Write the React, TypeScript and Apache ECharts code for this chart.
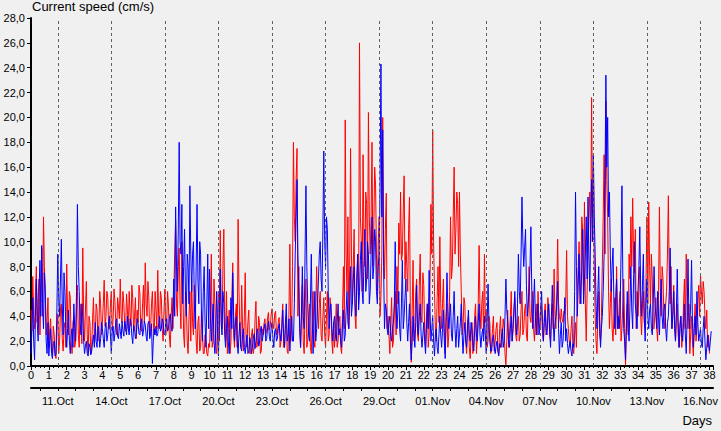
import React, { useEffect, useRef } from "react";
import * as echarts from "echarts";

// sampling step of both series, in days; the "half" arrays sit midway between samples
const STEP = 0.1;

// red current speed (cm/s) at 0.0, 0.1, 0.2 ... days (one row per day)
const redSpeed: number[] = [
  4.5, 7.2, 3.0, 8.0, 5.5, 2.5, 9.5, 12.0, 6.0, 3.5,
  1.5, 3.8, 1.0, 2.5, 0.6, 4.2, 2.0, 5.0, 1.2, 3.5,
  8.2, 2.5, 5.5, 1.0, 4.0, 2.0, 6.5, 1.5, 3.5, 9.5,
  2.0, 6.8, 1.0, 3.5, 1.5, 5.5, 2.5, 4.5, 3.0, 5.0,
  3.5, 6.9, 4.0, 5.5, 3.0, 6.0, 3.8, 5.2, 2.5, 4.8,
  7.0, 3.5, 5.0, 2.8, 4.5, 6.0, 3.2, 5.4, 4.0, 2.2,
  3.5, 5.8, 2.8, 6.5, 8.3, 4.0, 5.5, 3.0, 6.0, 2.5,
  4.5, 7.7, 3.0, 5.5, 2.0, 6.2, 3.5, 4.8, 1.5, 5.5,
  6.0, 11.7, 4.0, 9.5, 3.0, 7.0, 1.5, 5.0, 1.0, 6.0,
  7.0, 2.5, 5.5, 1.0, 4.0, 1.5, 3.0, 1.0, 2.0, 0.8,
  1.5, 9.0, 2.0, 5.0, 1.0, 6.0, 10.9, 3.0, 11.0, 2.0,
  1.0, 4.5, 2.0, 8.3, 1.5, 5.0, 11.8, 3.0, 6.5, 1.2,
  7.5, 2.0, 4.5, 1.0, 3.0, 1.5, 5.2, 2.0, 3.5, 1.2,
  2.5, 3.8, 2.8, 4.3, 3.2, 4.6, 3.0, 4.4, 2.6, 3.9,
  2.0, 5.0, 1.5, 4.0, 1.0, 9.8, 3.0, 18.0, 10.0, 17.5,
  8.0, 1.5, 6.5, 1.0, 7.0, 2.0, 5.0, 1.0, 6.0, 1.5,
  8.0, 3.0, 6.0, 2.0, 5.5, 1.5, 6.0, 2.5, 4.5, 1.0,
  1.5, 5.0, 2.0, 4.0, 1.0, 8.0, 19.8, 6.0, 3.0, 17.5,
  5.0, 11.0, 3.0, 9.0, 26.0, 10.0, 17.0, 8.0, 13.0, 20.4,
  9.0, 18.0, 11.0, 14.5, 6.0, 12.0, 5.5, 20.0, 7.0, 13.9,
  4.0, 1.0, 5.5, 2.0, 6.0, 8.0, 11.5, 14.0, 9.0, 15.3,
  10.0, 6.0, 13.6, 0.3, 8.5, 3.0, 7.0, 2.0, 9.0, 3.5,
  6.5, 1.5, 5.0, 2.5, 13.0, 19.0, 6.0, 2.0, 8.0, 10.4,
  3.0, 7.0, 1.0, 5.0, 2.5, 12.0, 8.0, 16.0, 11.0, 13.0,
  14.0, 6.0, 3.0, 5.0, 1.0, 4.0, 0.6, 3.5, 2.0, 5.0,
  2.5, 9.7, 3.0, 6.0, 9.0, 4.5, 2.0, 3.5, 1.5, 4.0,
  2.0, 3.5, 1.0, 4.0, 2.5, 3.0, 0.1, 4.5, 2.5, 6.0,
  3.0, 5.5, 2.0, 4.0, 2.5, 6.0, 3.0, 5.0, 2.0, 8.0,
  3.5, 6.0, 2.0, 5.0, 6.0, 3.0, 4.5, 2.0, 5.0, 3.0,
  4.5, 2.0, 5.0, 7.8, 3.0, 10.2, 4.0, 4.6, 3.5, 4.2,
  9.3, 3.0, 1.5, 4.0, 1.0, 3.5, 6.0, 10.0, 7.0, 11.0,
  13.2, 2.0, 9.0, 14.0, 21.6, 16.0, 4.0, 1.0, 6.0, 2.0,
  8.0, 17.0, 21.3, 12.0, 3.0, 7.0, 2.0, 5.5, 8.0, 3.0,
  6.0, 3.0, 7.0, 0.1, 5.0, 9.0, 12.0, 13.5, 7.5, 3.0,
  4.0, 8.0, 2.5, 6.0, 3.0, 12.0, 13.2, 5.0, 7.0, 3.0,
  5.5, 2.0, 12.8, 4.0, 7.0, 3.0, 6.0, 13.7, 5.0, 3.0,
  6.5, 2.0, 5.0, 1.5, 4.0, 2.5, 7.0, 9.0, 3.0, 1.0,
  4.0, 0.8, 5.0, 3.0, 6.5, 7.3, 5.0, 6.0, 3.0, 1.5,
  1.0,
];

// red current speed (cm/s) at 0.05, 0.15, 0.25 ... days
const redSpeedHalf: number[] = [
  2.8, 4.0, 6.0, 3.5, 7.0, 5.0, 4.0, 8.0, 2.5, 5.5,
  3.0, 1.2, 3.2, 1.0, 2.8, 1.0, 4.5, 2.2, 3.0, 1.5,
  4.0, 6.0, 2.0, 3.5, 1.5, 4.5, 2.5, 5.0, 1.8, 4.0,
  4.5, 2.5, 4.0, 1.0, 3.8, 1.8, 5.0, 2.0, 6.0, 2.5,
  5.0, 3.2, 6.0, 3.0, 5.0, 2.8, 6.2, 3.5, 5.5, 3.8,
  4.0, 6.0, 3.2, 5.8, 3.0, 4.2, 6.5, 2.8, 5.5, 4.5,
  6.5, 3.0, 5.0, 3.5, 5.0, 6.8, 2.5, 5.0, 3.5, 6.0,
  3.0, 4.0, 6.0, 3.0, 4.5, 2.5, 6.0, 2.5, 4.0, 3.0,
  9.0, 5.0, 8.0, 5.0, 10.0, 2.5, 6.0, 2.0, 4.0, 2.0,
  3.5, 6.5, 2.0, 3.5, 1.2, 4.5, 1.0, 2.5, 1.0, 1.8,
  4.0, 1.5, 7.0, 1.5, 4.0, 2.0, 5.0, 8.0, 4.5, 6.0,
  3.0, 1.0, 5.5, 2.5, 4.0, 1.5, 6.0, 1.5, 3.0, 4.0,
  1.5, 3.5, 1.0, 2.5, 1.0, 3.8, 1.5, 4.0, 1.0, 3.0,
  3.4, 2.6, 3.9, 2.9, 4.1, 3.4, 4.2, 2.5, 3.5, 1.5,
  3.5, 1.5, 3.0, 1.2, 4.5, 2.0, 8.0, 12.0, 15.0, 4.0,
  3.0, 4.0, 2.0, 4.5, 1.5, 4.0, 1.5, 3.5, 2.0, 4.5,
  4.5, 5.0, 2.5, 4.0, 2.5, 4.0, 2.0, 5.5, 2.0, 3.5,
  3.0, 1.5, 3.5, 1.5, 4.5, 3.0, 9.0, 12.0, 8.0, 9.0,
  8.0, 4.0, 7.0, 5.0, 12.0, 6.0, 10.0, 14.0, 7.0, 12.0,
  12.0, 8.0, 16.0, 9.0, 10.0, 4.0, 9.0, 10.0, 11.0, 3.0,
  2.5, 3.5, 1.5, 4.5, 2.5, 5.0, 9.0, 8.5, 12.5, 7.0,
  8.0, 11.0, 4.0, 4.5, 2.0, 6.0, 2.5, 6.5, 4.0, 7.5,
  3.0, 4.0, 1.5, 7.0, 9.0, 10.0, 3.0, 5.5, 3.5, 5.0,
  5.0, 3.0, 4.0, 1.5, 6.0, 7.0, 12.0, 9.0, 14.0, 8.0,
  9.0, 2.5, 5.5, 2.0, 3.5, 1.5, 2.5, 1.0, 4.0, 1.0,
  5.0, 4.5, 5.0, 2.5, 3.5, 1.5, 4.0, 1.0, 3.0, 1.2,
  3.0, 1.2, 3.0, 1.5, 3.8, 1.0, 2.0, 1.5, 4.0, 2.0,
  4.5, 2.5, 3.5, 2.0, 4.5, 2.5, 4.5, 2.5, 5.0, 4.0,
  5.0, 3.0, 4.0, 2.5, 3.5, 5.0, 2.5, 4.0, 2.5, 5.5,
  2.5, 4.0, 3.0, 4.0, 6.0, 5.0, 3.5, 3.8, 4.4, 5.0,
  4.0, 2.0, 3.0, 1.5, 2.5, 1.5, 8.0, 5.0, 12.0, 6.0,
  5.0, 6.0, 12.0, 10.0, 12.0, 8.0, 2.0, 4.0, 2.5, 4.0,
  12.0, 9.0, 15.0, 6.0, 5.0, 3.0, 4.0, 2.5, 4.0, 5.0,
  2.0, 5.0, 3.0, 3.0, 2.5, 7.0, 8.0, 9.0, 11.0, 6.0,
  6.0, 4.0, 5.0, 3.5, 7.0, 5.0, 8.0, 9.0, 3.0, 4.5,
  3.0, 6.0, 6.0, 8.0, 4.0, 5.0, 9.0, 7.0, 8.0, 4.5,
  3.5, 4.0, 2.5, 3.5, 1.5, 5.0, 3.0, 5.0, 5.0, 2.5,
  2.0, 3.5, 2.0, 5.0, 4.0, 6.0, 6.8, 4.0, 4.5, 2.5,
];

// blue current speed (cm/s) at 0.0, 0.1, 0.2 ... days (one row per day)
const blueSpeed: number[] = [
  1.0, 5.5, 0.5, 7.0, 2.0, 8.5, 9.7, 3.0, 6.0, 1.0,
  0.8, 3.0, 0.6, 2.0, 1.0, 9.0, 4.0, 10.2, 2.5, 6.0,
  1.5, 4.5, 1.0, 3.0, 5.0, 2.0, 13.0, 6.0, 2.5, 4.0,
  1.0, 2.0, 0.8, 1.5, 1.2, 2.5, 3.5, 1.5, 3.0, 2.2,
  3.0, 1.5, 3.5, 2.5, 4.0, 1.0, 3.2, 2.6, 3.8, 2.2,
  2.8, 3.6, 2.4, 3.2, 4.0, 2.5, 3.5, 1.8, 3.0, 2.6,
  3.4, 2.5, 3.8, 2.8, 3.3, 2.0, 3.6, 2.6, 0.2, 3.0,
  3.2, 2.6, 4.0, 3.0, 3.5, 2.5, 3.8, 3.0, 4.2, 2.8,
  7.0, 12.8, 6.0, 18.0, 9.0, 5.0, 11.0, 4.0, 8.0, 14.5,
  6.0, 10.0, 3.0, 13.0, 5.0, 9.0, 2.0, 8.0, 1.5, 9.0,
  7.8, 2.0, 5.0, 1.0, 6.0, 0.8, 7.8, 2.5, 5.0, 1.5,
  4.0, 1.0, 5.5, 7.5, 2.0, 4.0, 1.0, 3.5, 1.2, 3.0,
  1.0, 2.5, 1.2, 2.0, 1.5, 2.6, 2.0, 3.0, 1.8, 3.2,
  2.5, 3.4, 2.2, 3.6, 2.0, 3.5, 1.5, 3.0, 2.2, 3.4,
  2.0, 4.5, 1.5, 5.0, 2.5, 1.2, 4.0, 2.0, 9.0, 15.0,
  6.0, 1.5, 8.0, 3.0, 14.5, 5.0, 2.0, 9.0, 1.0, 6.0,
  3.0, 7.0, 10.0, 6.0, 17.3, 8.0, 11.0, 3.0, 5.0, 2.0,
  4.0, 2.0, 5.0, 3.0, 1.5, 4.5, 2.5, 6.0, 3.0, 8.0,
  5.0, 8.0, 4.0, 9.0, 6.0, 10.0, 5.0, 11.0, 7.0, 9.0,
  6.0, 12.0, 8.0, 10.0, 5.0, 9.0, 24.3, 19.0, 3.0, 4.5,
  2.5, 4.0, 2.0, 3.5, 10.0, 3.0, 6.0, 2.0, 8.5, 4.0,
  7.0, 2.0, 5.0, 0.5, 4.0, 1.5, 6.5, 2.5, 5.0, 1.5,
  3.5, 1.0, 5.0, 7.7, 2.0, 4.0, 0.8, 3.0, 1.0, 4.0,
  1.5, 4.5, 0.6, 7.5, 3.0, 5.0, 2.0, 6.0, 1.5, 4.0,
  2.5, 5.0, 1.0, 3.5, 1.5, 4.5, 2.0, 3.0, 1.2, 4.0,
  2.0, 5.0, 1.5, 3.0, 4.0, 1.0, 6.6, 2.0, 1.2, 2.5,
  1.0, 2.0, 0.8, 1.5, 3.0, 2.0, 7.0, 3.5, 1.5, 4.0,
  3.0, 6.0, 2.5, 9.0, 5.0, 13.6, 8.0, 11.0, 4.0, 6.0,
  11.2, 3.0, 7.0, 2.5, 5.0, 3.0, 6.0, 2.0, 4.5, 2.5,
  5.0, 1.5, 6.5, 2.0, 4.0, 6.8, 1.0, 3.5, 2.0, 5.5,
  3.0, 1.0, 2.0, 0.8, 1.5, 14.0, 4.0, 9.0, 5.0, 11.0,
  7.0, 12.0, 13.6, 6.0, 15.0, 17.0, 9.0, 3.0, 8.0, 1.5,
  4.0, 9.0, 23.4, 20.0, 14.0, 6.0, 9.5, 3.0, 7.0, 4.0,
  5.0, 14.5, 3.0, 0.5, 6.0, 2.0, 8.0, 3.0, 10.0, 4.0,
  6.0, 11.2, 4.0, 9.0, 2.0, 7.0, 3.0, 5.0, 2.5, 8.0,
  4.0, 6.0, 2.5, 7.0, 3.0, 5.0, 2.0, 4.0, 9.5, 3.0,
  6.0, 2.0, 7.8, 1.5, 4.0, 2.0, 5.0, 1.0, 8.6, 3.0,
  8.5, 1.5, 4.0, 6.0, 2.0, 3.0, 1.5, 4.0, 0.5, 2.5,
  1.2, 2.8,
];

// blue current speed (cm/s) at 0.05, 0.15, 0.25 ... days
const blueSpeedHalf: number[] = [
  3.0, 2.0, 4.0, 3.5, 6.0, 4.0, 5.0, 7.5, 2.0, 3.5,
  2.0, 1.0, 1.8, 0.8, 4.5, 5.5, 7.0, 5.0, 7.5, 3.0,
  3.0, 2.0, 2.5, 1.5, 3.0, 6.0, 8.0, 3.5, 5.0, 2.0,
  1.6, 1.0, 1.8, 0.9, 2.0, 1.5, 2.0, 3.2, 1.5, 3.5,
  2.2, 3.0, 2.0, 3.6, 2.5, 2.8, 2.0, 3.6, 2.4, 3.4,
  2.2, 2.8, 3.6, 2.5, 3.0, 3.8, 2.4, 3.3, 2.2, 3.8,
  2.6, 3.5, 2.4, 3.6, 2.4, 3.4, 2.2, 3.4, 2.0, 2.5,
  2.4, 3.4, 2.8, 3.8, 2.6, 3.6, 2.8, 3.8, 3.2, 4.5,
  4.0, 8.0, 11.0, 10.0, 13.0, 8.0, 6.0, 9.0, 5.0, 9.0,
  9.0, 5.0, 8.0, 7.0, 10.0, 4.0, 6.0, 3.5, 5.0, 3.0,
  4.0, 3.5, 2.0, 3.0, 2.5, 4.0, 3.5, 6.0, 2.5, 3.0,
  2.0, 3.0, 3.0, 4.0, 3.5, 2.0, 2.5, 1.5, 2.5, 1.5,
  1.8, 1.0, 2.3, 1.0, 2.2, 1.4, 2.8, 1.6, 2.9, 2.0,
  3.0, 2.0, 3.1, 2.4, 3.0, 2.2, 2.8, 2.0, 3.0, 2.6,
  3.0, 2.5, 3.5, 2.0, 3.8, 2.8, 2.0, 5.0, 12.0, 9.0,
  3.0, 4.5, 4.0, 9.0, 8.0, 2.5, 5.0, 4.0, 3.5, 2.0,
  5.0, 9.0, 7.0, 11.0, 10.0, 12.0, 6.0, 4.5, 3.0, 3.5,
  2.5, 3.5, 2.5, 2.0, 3.5, 2.0, 4.5, 3.5, 5.0, 4.0,
  7.0, 5.0, 7.0, 4.5, 8.5, 6.0, 8.5, 6.0, 10.0, 5.0,
  9.0, 7.0, 11.0, 6.0, 8.0, 14.0, 12.0, 8.0, 5.0, 3.0,
  3.5, 2.5, 3.0, 5.0, 5.0, 4.5, 3.0, 5.0, 3.0, 5.5,
  3.5, 3.5, 2.0, 2.0, 2.5, 3.5, 3.0, 4.0, 2.5, 2.5,
  2.0, 3.0, 3.0, 4.5, 3.0, 2.0, 2.5, 1.5, 2.5, 2.5,
  3.0, 2.0, 3.5, 4.5, 4.0, 2.5, 4.0, 3.0, 3.0, 1.5,
  3.5, 2.5, 2.5, 2.0, 3.0, 2.5, 3.5, 1.8, 2.8, 2.5,
  3.5, 2.5, 2.5, 2.0, 2.5, 3.5, 3.5, 1.2, 2.2, 1.5,
  1.6, 1.2, 1.8, 2.2, 1.5, 4.0, 4.5, 2.0, 3.0, 2.0,
  4.5, 3.5, 5.0, 6.0, 9.0, 10.0, 9.5, 6.5, 5.0, 8.0,
  6.0, 5.0, 4.0, 4.0, 2.5, 4.5, 3.5, 3.5, 3.0, 4.0,
  3.0, 4.0, 3.5, 3.5, 5.0, 3.0, 2.5, 1.5, 3.5, 2.0,
  1.8, 1.6, 1.2, 1.8, 6.0, 8.0, 6.5, 6.0, 8.0, 5.0,
  9.0, 7.0, 9.0, 11.0, 10.0, 12.0, 5.0, 6.0, 3.5, 3.0,
  6.0, 15.0, 16.0, 12.0, 9.0, 8.0, 5.0, 5.5, 3.0, 3.0,
  9.0, 7.0, 2.0, 3.5, 3.0, 5.0, 4.5, 7.0, 5.0, 3.0,
  8.0, 6.0, 6.5, 4.0, 5.0, 4.0, 4.5, 3.0, 5.0, 5.0,
  3.0, 4.0, 5.0, 4.0, 4.5, 3.0, 3.5, 6.0, 5.0, 4.0,
  3.0, 4.5, 3.5, 3.0, 2.5, 3.5, 2.5, 4.0, 4.0, 5.0,
  3.5, 3.0, 2.5, 3.5, 2.5, 1.8, 3.0, 2.0, 1.5, 1.8,
  2.0,
];

// date axis: positions (in days) and labels
const dateTickDays: number[] = [1.5, 4.5, 7.5, 10.5, 13.5, 16.5, 19.5, 22.5, 25.5, 28.5, 31.5, 34.5, 37.5];
const dateLabels: string[] = [
  "11.Oct", "14.Oct", "17.Oct", "20.Oct", "23.Oct", "26.Oct", "29.Oct",
  "01.Nov", "04.Nov", "07.Nov", "10.Nov", "13.Nov", "16.Nov",
];
// midnight positions (each day) on the date axis
const midnightDays: number[] = [
  0.5, 1.5, 2.5, 3.5, 4.5, 5.5, 6.5, 7.5, 8.5, 9.5, 10.5, 11.5, 12.5, 13.5, 14.5, 15.5, 16.5, 17.5, 18.5, 19.5,
  20.5, 21.5, 22.5, 23.5, 24.5, 25.5, 26.5, 27.5, 28.5, 29.5, 30.5, 31.5, 32.5, 33.5, 34.5, 35.5, 36.5, 37.5,
];

const X_MAX = 38.2;
const FONT = "Liberation Sans, Arial, sans-serif";

const r2 = (x: number) => Math.round(x * 100) / 100;
const toPairs = (base: number[], half: number[]) => {
  const pts: number[][] = [];
  base.forEach((v, i) => {
    pts.push([r2(i * STEP), v]);
    if (i < half.length) pts.push([r2(i * STEP + STEP / 2), half[i]]);
  });
  return pts;
};

export default function App() {
  const ref = useRef<HTMLDivElement>(null);

  useEffect(() => {
    if (!ref.current) return;
    const chart = echarts.init(ref.current, null, { renderer: "svg" });
    const black = "#000000";
    chart.setOption({
      animation: false,
      backgroundColor: "#f0f0f0",
      textStyle: { fontFamily: FONT, fontSize: 11, color: black },
      grid: { left: 31, right: 8, top: 18, bottom: 65 },
      xAxis: [
        {
          type: "value",
          min: 0,
          max: X_MAX,
          interval: 1,
          position: "bottom",
          axisLine: { show: true, onZero: false, lineStyle: { color: black, width: 2 } },
          axisTick: { show: true, length: 4, lineStyle: { color: black } },
          minorTick: { show: true, splitNumber: 4, length: 2, lineStyle: { color: black } },
          axisLabel: {
            color: black,
            fontFamily: FONT,
            fontSize: 11,
            margin: 3,
            formatter: (v: number) => (Number.isInteger(v) ? String(v) : ""),
          },
          splitLine: { show: false },
        },
        {
          type: "value",
          min: 0,
          max: X_MAX,
          position: "bottom",
          offset: 22,
          axisLine: { show: true, onZero: false, lineStyle: { color: black, width: 2 } },
          axisTick: { show: true, length: 3, customValues: midnightDays, lineStyle: { color: black } },
          axisLabel: {
            color: black,
            fontFamily: FONT,
            fontSize: 11,
            margin: 7,
            customValues: dateTickDays,
            formatter: (v: number) => {
              const i = dateTickDays.findIndex((d) => Math.abs(d - v) < 0.01);
              return i >= 0 ? dateLabels[i] : "";
            },
          },
          splitLine: { show: false },
        },
      ],
      yAxis: {
        type: "value",
        min: 0,
        max: 28,
        interval: 2,
        axisLine: { show: true, onZero: false, lineStyle: { color: black, width: 2 } },
        axisTick: { show: true, length: 4, lineStyle: { color: black } },
        axisLabel: {
          color: black,
          fontFamily: FONT,
          fontSize: 11,
          margin: 6,
          formatter: (v: number) => v.toFixed(1).replace(".", ","),
        },
        splitLine: { show: false },
      },
      graphic: [
        {
          type: "text",
          left: 32,
          top: 0,
          style: { text: "Current speed (cm/s)", font: `13px ${FONT}`, fill: black },
        },
        {
          type: "text",
          right: 9,
          top: 414,
          style: { text: "Days", font: `13px ${FONT}`, fill: black },
        },
      ],
      series: [
        {
          type: "line",
          xAxisIndex: 0,
          data: [],
          z: 1,
          markLine: {
            silent: true,
            symbol: ["none", "none"],
            label: { show: false },
            lineStyle: { color: "#606060", type: [3, 3], width: 1 },
            data: dateTickDays.map((d) => ({ xAxis: d })),
          },
        },
        {
          type: "line",
          xAxisIndex: 0,
          data: toPairs(redSpeed, redSpeedHalf),
          showSymbol: false,
          symbol: "none",
          lineStyle: { color: "#ff0000", width: 1 },
          z: 2,
        },
        {
          type: "line",
          xAxisIndex: 0,
          data: toPairs(blueSpeed, blueSpeedHalf),
          showSymbol: false,
          symbol: "none",
          lineStyle: { color: "#0000ff", width: 1 },
          z: 3,
        },
      ],
    });
    return () => chart.dispose();
  }, []);

  return (
    <div
      ref={ref}
      style={{ position: "absolute", left: 0, top: 0, width: 721, height: 431, background: "#f0f0f0" }}
    />
  );
}
